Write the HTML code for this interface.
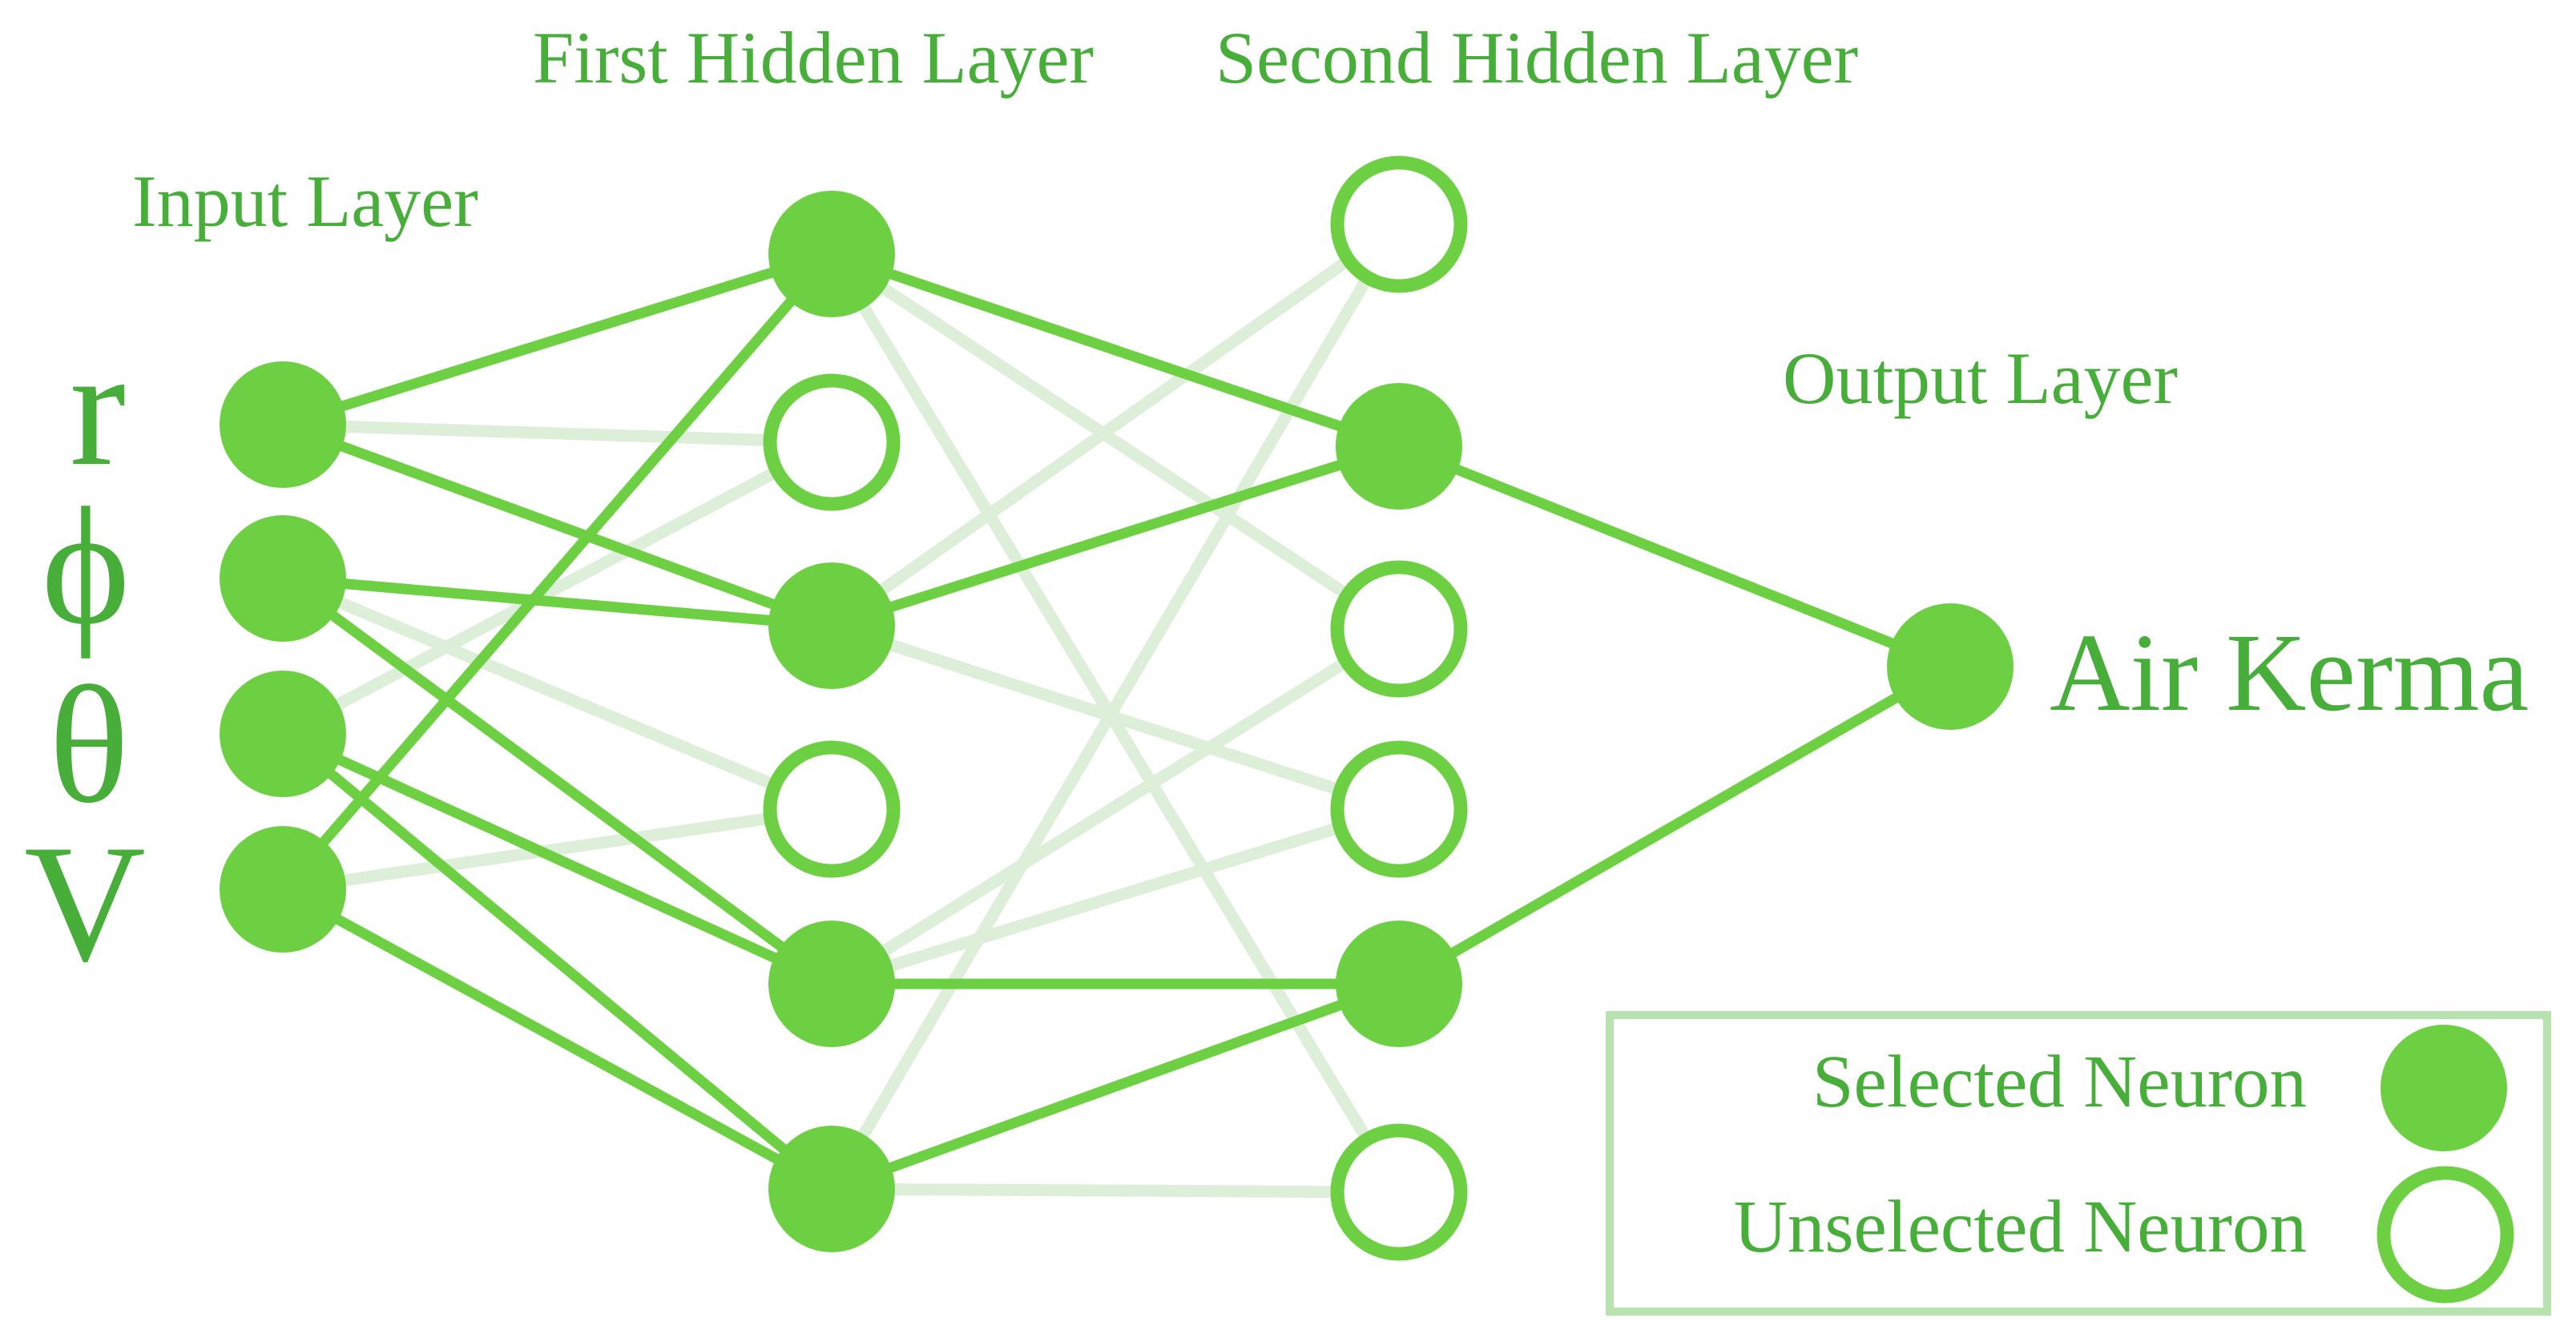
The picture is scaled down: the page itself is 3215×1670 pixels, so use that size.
<!DOCTYPE html>
<html><head><meta charset="utf-8"><style>
html,body{margin:0;padding:0;background:#fff}
svg{display:block}
text{font-family:"Liberation Serif",serif;fill:#47ae3a}
</style></head><body>
<svg width="3215" height="1670" viewBox="0 0 3215 1670" xmlns="http://www.w3.org/2000/svg">
<g stroke="#ddeed9" stroke-width="15" fill="none">
<line x1="353" y1="530" x2="1038" y2="552"/>
<line x1="353" y1="722" x2="1038" y2="1010"/>
<line x1="353" y1="916" x2="1038" y2="552"/>
<line x1="353" y1="1110" x2="1038" y2="1010"/>
<line x1="1038" y1="317" x2="1746" y2="785"/>
<line x1="1038" y1="317" x2="1746" y2="1488"/>
<line x1="1038" y1="781" x2="1746" y2="280"/>
<line x1="1038" y1="781" x2="1746" y2="1010"/>
<line x1="1038" y1="1228" x2="1746" y2="785"/>
<line x1="1038" y1="1228" x2="1746" y2="1010"/>
<line x1="1038" y1="1484" x2="1746" y2="280"/>
<line x1="1038" y1="1484" x2="1746" y2="1488"/>
</g>
<g stroke="#6dd043" stroke-width="13" fill="none">
<line x1="353" y1="530" x2="1038" y2="317"/>
<line x1="353" y1="530" x2="1038" y2="781"/>
<line x1="353" y1="722" x2="1038" y2="781"/>
<line x1="353" y1="722" x2="1038" y2="1228"/>
<line x1="353" y1="916" x2="1038" y2="1228"/>
<line x1="353" y1="916" x2="1038" y2="1484"/>
<line x1="353" y1="1110" x2="1038" y2="317"/>
<line x1="353" y1="1110" x2="1038" y2="1484"/>
<line x1="1038" y1="317" x2="1746" y2="557"/>
<line x1="1038" y1="781" x2="1746" y2="557"/>
<line x1="1038" y1="1228" x2="1746" y2="1228"/>
<line x1="1038" y1="1484" x2="1746" y2="1228"/>
<line x1="1746" y1="557" x2="2434" y2="832"/>
<line x1="1746" y1="1228" x2="2434" y2="832"/>
</g>
<g fill="#6dd043">
<circle cx="353" cy="530" r="79"/>
<circle cx="353" cy="722" r="79"/>
<circle cx="353" cy="916" r="79"/>
<circle cx="353" cy="1110" r="79"/>
<circle cx="1038" cy="317" r="79"/>
<circle cx="1038" cy="781" r="79"/>
<circle cx="1038" cy="1228" r="79"/>
<circle cx="1038" cy="1484" r="79"/>
<circle cx="1746" cy="557" r="79"/>
<circle cx="1746" cy="1228" r="79"/>
<circle cx="2434" cy="832" r="79"/>
<circle cx="3050" cy="1358" r="79"/>
</g>
<g fill="#fff" stroke="#6dd043" stroke-width="17">
<circle cx="1038" cy="552" r="77"/>
<circle cx="1038" cy="1010" r="77"/>
<circle cx="1746" cy="280" r="77"/>
<circle cx="1746" cy="785" r="77"/>
<circle cx="1746" cy="1010" r="77"/>
<circle cx="1746" cy="1488" r="77"/>
<circle cx="3052" cy="1541" r="77"/>
</g>
<rect x="2009" y="1267" width="1170" height="370" fill="none" stroke="#b9e2b1" stroke-width="10"/>
<text x="665" y="103" font-size="92">First Hidden Layer</text>
<text x="1517" y="103" font-size="92">Second Hidden Layer</text>
<text x="165" y="282" font-size="92">Input Layer</text>
<text x="2225" y="503" font-size="92">Output Layer</text>
<text x="2558" y="886" font-size="139">Air Kerma</text>
<text x="2879" y="1381" font-size="93" text-anchor="end">Selected Neuron</text>
<text x="2879" y="1562" font-size="93" text-anchor="end">Unselected Neuron</text>
<text x="122" y="579" font-size="210" text-anchor="middle">r</text>
<text x="107" y="777" font-size="210" text-anchor="middle">ϕ</text>
<text x="111" y="1000" font-size="210" text-anchor="middle">θ</text>
<text x="106" y="1198" font-size="210" text-anchor="middle">V</text>
</svg>
</body></html>
